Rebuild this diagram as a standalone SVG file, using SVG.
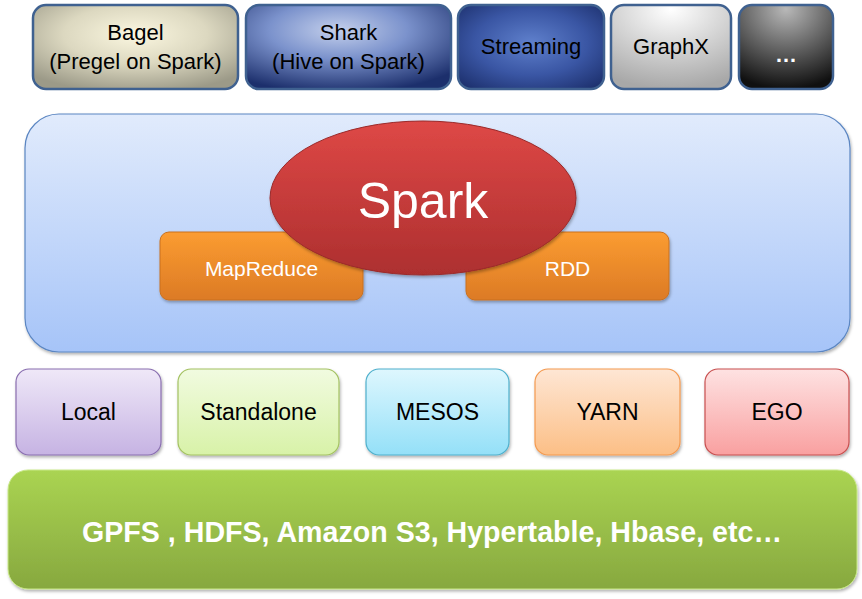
<svg xmlns="http://www.w3.org/2000/svg" width="862" height="599" viewBox="0 0 862 599">
<defs>
<radialGradient id="gBagel" cx="0.5" cy="0.35" r="0.7"><stop offset="0" stop-color="#fbf7e0"/><stop offset="0.5" stop-color="#dcd8c0"/><stop offset="1" stop-color="#9c9a88"/></radialGradient>
<radialGradient id="gShark" cx="0.45" cy="0.3" r="0.75"><stop offset="0" stop-color="#c4d0ec"/><stop offset="0.45" stop-color="#7b92cc"/><stop offset="1" stop-color="#1c2f6c"/></radialGradient>
<radialGradient id="gStream" cx="0.5" cy="0.45" r="0.7"><stop offset="0" stop-color="#5f80cc"/><stop offset="0.55" stop-color="#3a56a4"/><stop offset="1" stop-color="#1c2f6c"/></radialGradient>
<radialGradient id="gGraph" cx="0.5" cy="0.05" r="0.95"><stop offset="0" stop-color="#ffffff"/><stop offset="1" stop-color="#a8a8a8"/></radialGradient>
<radialGradient id="gDots" cx="0.5" cy="0.05" r="0.95"><stop offset="0" stop-color="#b8b8b8"/><stop offset="1" stop-color="#101010"/></radialGradient>
<linearGradient id="gBlue" x1="0" y1="0" x2="0" y2="1"><stop offset="0" stop-color="#e1ebfc"/><stop offset="1" stop-color="#a6c4f8"/></linearGradient>
<linearGradient id="gRed" x1="0" y1="0" x2="0" y2="1"><stop offset="0" stop-color="#de4846"/><stop offset="1" stop-color="#ad2f2f"/></linearGradient>
<linearGradient id="gOrange" x1="0" y1="0" x2="0" y2="1"><stop offset="0" stop-color="#fb9c31"/><stop offset="1" stop-color="#dc7a25"/></linearGradient>
<linearGradient id="gLocal" x1="0" y1="0" x2="0" y2="1"><stop offset="0" stop-color="#efe8f8"/><stop offset="1" stop-color="#c6b3e3"/></linearGradient>
<linearGradient id="gStand" x1="0" y1="0" x2="0" y2="1"><stop offset="0" stop-color="#f1fbe0"/><stop offset="1" stop-color="#d8f2a8"/></linearGradient>
<linearGradient id="gMesos" x1="0" y1="0" x2="0" y2="1"><stop offset="0" stop-color="#def7fe"/><stop offset="1" stop-color="#94e0f8"/></linearGradient>
<linearGradient id="gYarn" x1="0" y1="0" x2="0" y2="1"><stop offset="0" stop-color="#fee6d4"/><stop offset="1" stop-color="#fcbf86"/></linearGradient>
<linearGradient id="gEgo" x1="0" y1="0" x2="0" y2="1"><stop offset="0" stop-color="#fee2e2"/><stop offset="1" stop-color="#f9a0a0"/></linearGradient>
<linearGradient id="gGreen" x1="0" y1="0" x2="0" y2="1"><stop offset="0" stop-color="#aad452"/><stop offset="1" stop-color="#87a83f"/></linearGradient>
<filter id="shadow" x="-10%" y="-10%" width="120%" height="130%"><feDropShadow dx="1" dy="2" stdDeviation="1.5" flood-color="#000" flood-opacity="0.3"/></filter>
</defs>
<style>
.top{stroke:#3f6190;stroke-width:2.5}
.lbl{font-family:"Liberation Sans",Arial,sans-serif;text-anchor:middle}
.dark{fill:#000;font-size:22px}
.white{fill:#fff}
.mid{font-size:23px;fill:#000}
</style>
<rect width="862" height="599" fill="#fff"/>

<g id="bagel"><rect x="33" y="5" width="205" height="84" rx="13" fill="url(#gBagel)" class="top"/>
<text class="lbl dark" x="135.5" y="40">Bagel</text><text class="lbl dark" x="135.5" y="69">(Pregel on Spark)</text></g>
<g id="shark"><rect x="246" y="5" width="205" height="84" rx="13" fill="url(#gShark)" class="top"/>
<text class="lbl dark" x="348.5" y="40">Shark</text><text class="lbl dark" x="348.5" y="69">(Hive on Spark)</text></g>
<g id="streaming"><rect x="458" y="5" width="146" height="84" rx="13" fill="url(#gStream)" class="top"/>
<text class="lbl dark" x="531" y="54">Streaming</text></g>
<g id="graphx"><rect x="611" y="5" width="120" height="84" rx="13" fill="url(#gGraph)" class="top"/>
<text class="lbl dark" x="671" y="54">GraphX</text></g>
<g id="more"><rect x="739" y="5" width="94" height="84" rx="13" fill="url(#gDots)" class="top"/>
<text class="lbl white" x="786" y="62" font-size="22" font-weight="bold">…</text></g>

<g id="spark-core">
<rect x="25" y="114" width="825" height="238" rx="34" fill="url(#gBlue)" stroke="#5b86c2" stroke-width="1.2" filter="url(#shadow)"/>
</g>
<g id="mapreduce"><rect x="160" y="232" width="203" height="68" rx="9" fill="url(#gOrange)" stroke="#c9701f" stroke-width="1" filter="url(#shadow)"/>
<text class="lbl white" x="261.5" y="276" font-size="21">MapReduce</text></g>
<g id="rdd"><rect x="466" y="232" width="203" height="68" rx="9" fill="url(#gOrange)" stroke="#c9701f" stroke-width="1" filter="url(#shadow)"/>
<text class="lbl white" x="567.5" y="276" font-size="21">RDD</text></g>
<g id="spark"><ellipse cx="423" cy="198" rx="153" ry="77" fill="url(#gRed)" stroke="#9a2a2a" stroke-width="1" filter="url(#shadow)"/>
<text class="lbl white" x="423" y="218" font-size="50">Spark</text></g>

<g id="local"><rect x="16" y="369" width="145" height="86" rx="13" fill="url(#gLocal)" stroke="#8a6fb0" stroke-width="1.2" filter="url(#shadow)"/>
<text class="lbl mid" x="88.5" y="420">Local</text></g>
<g id="standalone"><rect x="178" y="369" width="161" height="86" rx="13" fill="url(#gStand)" stroke="#a4c262" stroke-width="1.2" filter="url(#shadow)"/>
<text class="lbl mid" x="258.5" y="420">Standalone</text></g>
<g id="mesos"><rect x="366" y="369" width="143" height="86" rx="13" fill="url(#gMesos)" stroke="#4fb0cc" stroke-width="1.2" filter="url(#shadow)"/>
<text class="lbl mid" x="437.5" y="420">MESOS</text></g>
<g id="yarn"><rect x="535" y="369" width="145" height="86" rx="13" fill="url(#gYarn)" stroke="#f49a50" stroke-width="1.2" filter="url(#shadow)"/>
<text class="lbl mid" x="607.5" y="420">YARN</text></g>
<g id="ego"><rect x="705" y="369" width="144" height="86" rx="13" fill="url(#gEgo)" stroke="#c85050" stroke-width="1.2" filter="url(#shadow)"/>
<text class="lbl mid" x="777" y="420">EGO</text></g>

<g id="storage"><rect x="8" y="470" width="849" height="119" rx="20" fill="url(#gGreen)" stroke="#c8e888" stroke-width="1" filter="url(#shadow)"/>
<text class="lbl white" x="432" y="542" font-size="30" font-weight="bold" textLength="700" lengthAdjust="spacingAndGlyphs">GPFS , HDFS, Amazon S3, Hypertable, Hbase, etc…</text></g>
</svg>
